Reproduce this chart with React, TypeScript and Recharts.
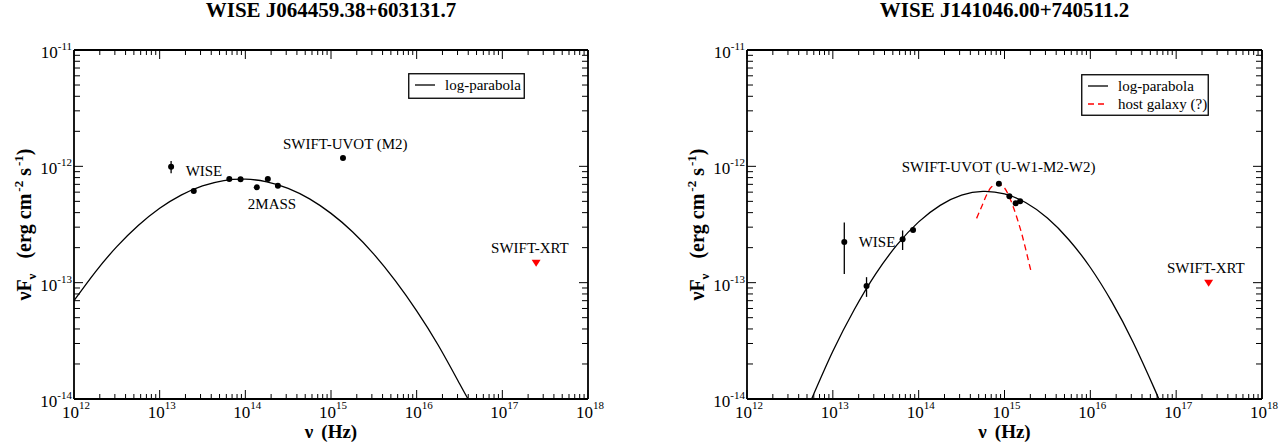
import React from 'react'
import { ComposedChart, XAxis, YAxis, Line, Scatter, ErrorBar, Legend } from 'recharts'

const FONT = '"Liberation Serif", "Times New Roman", serif'

// axis decades (major ticks) and the minor steps inside each decade
const xDecades = [1e12, 1e13, 1e14, 1e15, 1e16, 1e17, 1e18]
const yDecades = [1e-14, 1e-13, 1e-12, 1e-11]
const minorSteps = [2, 3, 4, 5, 6, 7, 8, 9]

// ---- WISE J064459.38+603131.7 ----
const wiseA = [
  { nu: 1.36e13, f: 9.9e-13, err: 1.2e-13 },
  { nu: 2.5e13, f: 6.15e-13, err: 0 },
  { nu: 6.5e13, f: 7.8e-13, err: 0 },
  { nu: 8.8e13, f: 7.75e-13, err: 0 },
]
const twoMassA = [
  { nu: 1.36e14, f: 6.6e-13, err: 0 },
  { nu: 1.83e14, f: 7.8e-13, err: 0 },
  { nu: 2.4e14, f: 6.8e-13, err: 0 },
]
const uvotA = [{ nu: 1.38e15, f: 1.18e-12, err: 0 }]
const xrtA = [{ nu: 2.48e17, f: 1.47e-13 }]
const logParabolaA = [
  { nu: 1e12, f: 7.0e-14 },
  { nu: 1.78e12, f: 1.24e-13 },
  { nu: 3.16e12, f: 2.04e-13 },
  { nu: 5.62e12, f: 3.1e-13 },
  { nu: 1e13, f: 4.36e-13 },
  { nu: 1.78e13, f: 5.66e-13 },
  { nu: 3.16e13, f: 6.79e-13 },
  { nu: 5.62e13, f: 7.55e-13 },
  { nu: 1e14, f: 7.76e-13 },
  { nu: 1.78e14, f: 7.36e-13 },
  { nu: 3.16e14, f: 6.47e-13 },
  { nu: 5.62e14, f: 5.25e-13 },
  { nu: 1e15, f: 3.94e-13 },
  { nu: 1.78e15, f: 2.74e-13 },
  { nu: 3.16e15, f: 1.76e-13 },
  { nu: 5.62e15, f: 1.04e-13 },
  { nu: 1e16, f: 5.73e-14 },
  { nu: 1.78e16, f: 2.91e-14 },
  { nu: 3.16e16, f: 1.36e-14 },
  { nu: 3.98e16, f: 1.0e-14 },
]
const notesA = [
  { nu: 2.01e13, f: 9.12e-13, text: 'WISE', anchor: 'start' },
  { nu: 1.07e14, f: 4.74e-13, text: '2MASS', anchor: 'start' },
  { nu: 1.47e15, f: 1.556e-12, text: 'SWIFT-UVOT (M2)', anchor: 'middle' },
  { nu: 2.1e17, f: 2.0e-13, text: 'SWIFT-XRT', anchor: 'middle' },
]

// ---- WISE J141046.00+740511.2 ----
const wiseB = [
  { nu: 1.36e13, f: 2.24e-13, err: 1.05e-13 },
  { nu: 2.47e13, f: 9.35e-14, err: 1.8e-14 },
  { nu: 6.5e13, f: 2.36e-13, err: 4.5e-14 },
  { nu: 8.6e13, f: 2.84e-13, err: 1.2e-14 },
]
const uvotB = [
  { nu: 8.6e14, f: 7.1e-13, err: 0 },
  { nu: 1.14e15, f: 5.52e-13, err: 0 },
  { nu: 1.35e15, f: 4.81e-13, err: 0 },
  { nu: 1.52e15, f: 5.0e-13, err: 0 },
]
const xrtB = [{ nu: 2.39e17, f: 9.9e-14 }]
const logParabolaB = [
  { nu: 5.66e12, f: 1.0e-14 },
  { nu: 1e13, f: 2.57e-14 },
  { nu: 1.78e13, f: 5.88e-14 },
  { nu: 3.16e13, f: 1.19e-13 },
  { nu: 5.62e13, f: 2.12e-13 },
  { nu: 1e14, f: 3.33e-13 },
  { nu: 1.78e14, f: 4.62e-13 },
  { nu: 3.16e14, f: 5.65e-13 },
  { nu: 5.62e14, f: 6.09e-13 },
  { nu: 1e15, f: 5.79e-13 },
  { nu: 1.78e15, f: 4.86e-13 },
  { nu: 3.16e15, f: 3.59e-13 },
  { nu: 5.62e15, f: 2.34e-13 },
  { nu: 1e16, f: 1.35e-13 },
  { nu: 1.78e16, f: 6.84e-14 },
  { nu: 3.16e16, f: 3.06e-14 },
  { nu: 5.62e16, f: 1.21e-14 },
  { nu: 6.25e16, f: 1.0e-14 },
]
const hostGalaxyB = [
  { nu: 4.73e14, f: 3.57e-13 },
  { nu: 5.41e14, f: 4.5e-13 },
  { nu: 6.18e14, f: 5.67e-13 },
  { nu: 7.08e14, f: 6.68e-13 },
  { nu: 8.45e14, f: 7.01e-13 },
  { nu: 9.84e14, f: 6.61e-13 },
  { nu: 1.135e15, f: 5.48e-13 },
  { nu: 1.263e15, f: 4.5e-13 },
  { nu: 1.422e15, f: 3.46e-13 },
  { nu: 1.582e15, f: 2.66e-13 },
  { nu: 1.775e15, f: 1.91e-13 },
  { nu: 1.977e15, f: 1.37e-13 },
  { nu: 2.07e15, f: 1.2e-13 },
]
const notesB = [
  { nu: 8.53e14, f: 9.93e-13, text: 'SWIFT-UVOT (U-W1-M2-W2)', anchor: 'middle' },
  { nu: 2.0e13, f: 2.24e-13, text: 'WISE', anchor: 'start' },
  { nu: 2.22e17, f: 1.35e-13, text: 'SWIFT-XRT', anchor: 'middle' },
]

const withMinor = (decades: number[]) =>
  decades.flatMap((d, i) => (i === decades.length - 1 ? [d] : [d, ...minorSteps.map((m) => m * d)]))
const xTicks = withMinor(xDecades)
const yTicks = withMinor(yDecades)

const isMajor = (v: number) => Math.abs(Math.log10(v) - Math.round(Math.log10(v))) < 1e-6

const xTick = (side: 'bottom' | 'top') => (p: any) => {
  const v = p.payload.value
  const len = isMajor(v) ? 9 : 5
  const e = Math.round(Math.log10(v))
  return (
    <g>
      <line x1={p.x} x2={p.x} y1={p.y} y2={side === 'bottom' ? p.y - len : p.y + len} stroke="#000" strokeWidth={1} />
      {side === 'bottom' && isMajor(v) && (
        <text x={p.x + 2} y={p.y + 19} textAnchor="middle" fontFamily={FONT} fontSize={17} fill="#000">
          10<tspan dy={-9} fontSize={11}>{e}</tspan>
        </text>
      )}
    </g>
  )
}

const yTick = (side: 'left' | 'right') => (p: any) => {
  const v = p.payload.value
  const len = isMajor(v) ? 9 : 6
  const e = Math.round(Math.log10(v))
  return (
    <g>
      <line x1={p.x} x2={side === 'left' ? p.x + len : p.x - len} y1={p.y} y2={p.y} stroke="#000" strokeWidth={1} />
      {side === 'left' && isMajor(v) && (
        <text x={p.x - 2} y={p.y + 8} textAnchor="end" fontFamily={FONT} fontSize={17} fill="#000">
          10<tspan dy={-8} fontSize={11}>{e}</tspan>
        </text>
      )}
    </g>
  )
}

const dot = (s: any) => <circle cx={s.cx} cy={s.cy} r={3} fill="#000" />
const downTriangle = (s: any) => (
  <polygon points={`${s.cx - 4.5},${s.cy - 3.5} ${s.cx + 4.5},${s.cy - 3.5} ${s.cx},${s.cy + 3.5}`} fill="#ff0000" />
)
const note = (s: any) => (
  <text x={s.cx} y={s.cy} textAnchor={s.payload.anchor} dominantBaseline="central" fontFamily={FONT} fontSize={15} fill="#000">
    {s.payload.text}
  </text>
)

const legendOrder = ['log-parabola', 'host galaxy (?)']

function LegendBox({ payload, w, h }: any) {
  const items = (payload || [])
    .filter((e: any) => e.type !== 'none')
    .sort((a: any, b: any) => legendOrder.indexOf(a.value) - legendOrder.indexOf(b.value))
  return (
    <svg width={w} height={h} style={{ display: 'block' }}>
      <rect x={0.75} y={0.75} width={w - 1.5} height={h - 1.5} fill="#fff" stroke="#000" strokeWidth={1.3} />
      {items.map((e: any, i: number) => (
        <g key={e.value}>
          <line x1={7} x2={27} y1={12 + 18 * i} y2={12 + 18 * i} stroke={e.color} strokeWidth={1.3}
            strokeDasharray={e.payload?.strokeDasharray} />
          <text x={37} y={12 + 18 * i} dominantBaseline="central" fontFamily={FONT} fontSize={15} fill="#000">
            {e.value}
          </text>
        </g>
      ))}
    </svg>
  )
}

function Panel(p: any) {
  const H = 444
  const top = 50
  const bottom = 45
  const plotW = p.width - p.ml - p.mr
  const plotH = H - top - bottom
  const yTitle = () => {
    const cx = p.ml - 43
    const cy = top + plotH / 2
    return (
      <text x={cx} y={cy} transform={`rotate(-90 ${cx} ${cy})`} textAnchor="middle" fontFamily={FONT}
        fontWeight="bold" fontSize={20} fill="#000">
        νF<tspan dy={5} fontSize={13}>ν</tspan>
        <tspan dy={-5} dx={15}>(erg cm</tspan>
        <tspan dy={-8} dx={2} fontSize={13}>-2</tspan>
        <tspan dy={8}> s</tspan>
        <tspan dy={-8} dx={2} fontSize={13}>-1</tspan>
        <tspan dy={8}>)</tspan>
      </text>
    )
  }
  const xTitle = () => (
    <text x={p.ml + plotW / 2} y={top + plotH + 39} textAnchor="middle" fontFamily={FONT} fontWeight="bold"
      fontSize={19} fill="#000">
      ν<tspan dx={8}>(Hz)</tspan>
    </text>
  )
  const frameLine = { stroke: '#000', strokeWidth: 1.8 }
  // every axis is 1px thick, so the margins are 1px smaller than the frame offsets
  return (
    <div style={{ position: 'absolute', left: p.x, top: 0, width: p.width, height: H }}>
      <ComposedChart width={p.width} height={H}
        margin={{ top: top - 1, right: p.mr - 1, bottom: bottom - 1, left: p.ml - 1 }}>
        <XAxis dataKey="nu" type="number" scale="log" domain={[1e12, 1e18]} allowDataOverflow ticks={xTicks}
          interval={0} height={1} tickSize={0} tickMargin={0} tickLine={false} tick={xTick('bottom')}
          axisLine={frameLine} label={xTitle} />
        <XAxis xAxisId="top" orientation="top" dataKey="nu" type="number" scale="log" domain={[1e12, 1e18]}
          allowDataOverflow ticks={xTicks} interval={0} height={1} tickSize={0} tickMargin={0} tickLine={false}
          tick={xTick('top')} axisLine={frameLine} />
        <YAxis dataKey="f" type="number" scale="log" domain={[1e-14, 1e-11]} allowDataOverflow ticks={yTicks}
          interval={0} width={1} tickSize={0} tickMargin={0} tickLine={false} tick={yTick('left')}
          axisLine={frameLine} label={yTitle} />
        <YAxis yAxisId="right" orientation="right" dataKey="f" type="number" scale="log" domain={[1e-14, 1e-11]}
          allowDataOverflow ticks={yTicks} interval={0} width={1} tickSize={0} tickMargin={0} tickLine={false}
          tick={yTick('right')} axisLine={frameLine} />
        {p.curves.map((c: any) => (
          <Line key={c.name} data={c.data} dataKey="f" name={c.name} type={c.kind} dot={false} activeDot={false}
            stroke={c.color} strokeWidth={1.3} strokeDasharray={c.dash} isAnimationActive={false} />
        ))}
        {p.points.map((pts: any, i: number) => (
          <Scatter key={i} data={pts} shape={dot} legendType="none" isAnimationActive={false}>
            <ErrorBar dataKey="err" direction="y" width={0} stroke="#000" strokeWidth={1.3} />
          </Scatter>
        ))}
        <Scatter data={p.limits} shape={downTriangle} legendType="none" isAnimationActive={false} />
        <Scatter data={p.notes} shape={note} legendType="none" isAnimationActive={false} />
        <Legend layout="vertical" verticalAlign="middle" align="center"
          wrapperStyle={{ left: p.legend.left, top: p.legend.top, width: p.legend.w, height: p.legend.h }}
          content={(lp: any) => <LegendBox payload={lp.payload} w={p.legend.w} h={p.legend.h} />} />
      </ComposedChart>
      <div style={{ position: 'absolute', left: p.ml, width: plotW, top: 0, textAlign: 'center', fontFamily: FONT,
        fontWeight: 'bold', fontSize: 21, lineHeight: '21px', color: '#000', whiteSpace: 'nowrap' }}>
        {p.title}
      </div>
    </div>
  )
}

export default function App() {
  return (
    <div style={{ position: 'absolute', left: 0, top: 0, width: 1283, height: 444, background: '#fff' }}>
      <Panel x={0} width={641} ml={74} mr={53} title="WISE J064459.38+603131.7"
        points={[wiseA, twoMassA, uvotA]} limits={xrtA} notes={notesA}
        curves={[{ name: 'log-parabola', data: logParabolaA, color: '#000', kind: 'natural' }]}
        legend={{ left: 408, top: 73, w: 117, h: 26 }} />
      <Panel x={643} width={640} ml={104} mr={21} title="WISE J141046.00+740511.2"
        points={[wiseB, uvotB]} limits={xrtB} notes={notesB}
        curves={[
          { name: 'log-parabola', data: logParabolaB, color: '#000', kind: 'natural' },
          { name: 'host galaxy (?)', data: hostGalaxyB, color: '#ff0000', dash: '6 4', kind: 'monotone' },
        ]}
        legend={{ left: 438, top: 74, w: 128, h: 42 }} />
    </div>
  )
}
